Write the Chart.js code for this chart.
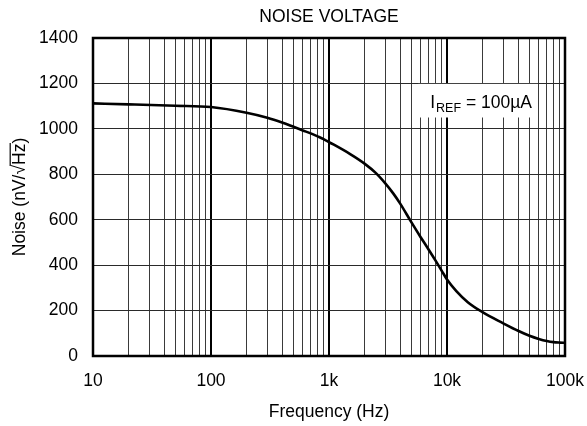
<!DOCTYPE html>
<html>
<head>
<meta charset="utf-8">
<script src="https://cdn.jsdelivr.net/npm/chart.js@4"></script>
<style>
  html, body { margin: 0; padding: 0; background: #fff; }
  #wrap { width: 587px; height: 426px; position: relative; }
</style>
</head>
<body>
<div id="wrap"><canvas id="c" width="587" height="426"></canvas></div>
<script>
// ---- data ----
const frequencies = [10, 20, 50, 100, 200, 300, 400, 500, 600, 700, 800, 900, 1000, 1500, 2000, 2500, 3000, 3500, 4000, 5000, 6000, 7000, 8000, 9000, 10000, 12000, 15000, 20000, 30000, 40000, 50000, 60000, 70000, 80000, 90000, 100000];
const noiseValues = [1112, 1108, 1102, 1096, 1071, 1049, 1028, 1009, 993, 980, 967, 955, 942, 890, 847, 805, 760, 716, 672, 588, 522, 468, 420, 376, 337, 286, 237, 193, 144, 111, 89, 75, 66, 61, 59, 58];
const xMajorTicks = [10, 100, 1000, 10000, 100000];
const xTickLabels = ['10', '100', '1k', '10k', '100k'];
const xMinorMantissas = [2, 3, 4, 5, 6, 7, 8, 9];
const yTicks = [0, 200, 400, 600, 800, 1000, 1200, 1400];
const chartTitle = 'NOISE VOLTAGE';
const xTitle = 'Frequency (Hz)';
const yTitleMain = 'Noise (nV/\u221A';
const yTitleRadicand = 'Hz';
const yTitleEnd = ')';
const annotationMain = 'I';
const annotationSub = 'REF';
const annotationRest = ' = 100\u00B5A';
const annotationBox = { xMin: 5700, xMax: 59000, yMin: 1050, yMax: 1198 };

const FONT = '"Liberation Sans", Arial, Helvetica, sans-serif';
const FS = 17.5;

const gridValues = [];
xMajorTicks.forEach((d, i) => {
  gridValues.push(d);
  if (i < xMajorTicks.length - 1) xMinorMantissas.forEach(m => gridValues.push(d * m));
});

const decorPlugin = {
  id: 'decor',
  afterDatasetsDraw(chart) {
    const ctx = chart.ctx;
    const xs = chart.scales.x, ys = chart.scales.y;
    const l = xs.getPixelForValue(annotationBox.xMin);
    const r = xs.getPixelForValue(annotationBox.xMax);
    const t = ys.getPixelForValue(annotationBox.yMax);
    const b = ys.getPixelForValue(annotationBox.yMin);
    ctx.save();
    ctx.fillStyle = '#fff';
    ctx.fillRect(l, t, r - l, b - t);
    ctx.fillStyle = '#000';
    ctx.textBaseline = 'alphabetic';
    ctx.textAlign = 'left';
    ctx.font = FS + 'px ' + FONT;
    const wI = ctx.measureText(annotationMain).width;
    ctx.font = '12.5px ' + FONT;
    const wS = ctx.measureText(annotationSub).width;
    ctx.font = FS + 'px ' + FONT;
    const wR = ctx.measureText(annotationRest).width;
    const total = wI + 1 + wS + wR;
    let x = (l + r) / 2 - total / 2 + 3;
    const base = t + 24.5;
    ctx.font = FS + 'px ' + FONT;
    ctx.fillText(annotationMain, x, base);
    x += wI + 1;
    ctx.font = '12.5px ' + FONT;
    ctx.fillText(annotationSub, x, base + 3.5);
    x += wS;
    ctx.font = FS + 'px ' + FONT;
    ctx.fillText(annotationRest, x, base);
    ctx.restore();
  },
  afterDraw(chart) {
    const ctx = chart.ctx;
    const a = chart.chartArea;
    ctx.save();
    ctx.strokeStyle = '#000';
    ctx.lineWidth = 2.5;
    ctx.strokeRect(a.left, a.top, a.right - a.left, a.bottom - a.top);
    ctx.fillStyle = '#000';
    ctx.font = FS + 'px ' + FONT;
    ctx.textAlign = 'center';
    ctx.textBaseline = 'middle';
    const cx = (a.left + a.right) / 2;
    ctx.fillText(chartTitle, cx, 17);
    ctx.fillText(xTitle, cx, 412);
    const cy = (a.top + a.bottom) / 2;
    ctx.translate(19, cy);
    ctx.rotate(-Math.PI / 2);
    const w1 = ctx.measureText(yTitleMain).width;
    const w2 = ctx.measureText(yTitleRadicand).width;
    const w3 = ctx.measureText(yTitleEnd).width;
    const tw = w1 + w2 + w3;
    ctx.textAlign = 'left';
    ctx.textBaseline = 'alphabetic';
    const sx = -tw / 2;
    const by = 6;
    ctx.fillText(yTitleMain, sx, by);
    ctx.fillText(yTitleRadicand, sx + w1, by);
    ctx.fillText(yTitleEnd, sx + w1 + w2, by);
    ctx.lineWidth = 1.2;
    ctx.beginPath();
    ctx.moveTo(sx + w1 - 1, by - 14.8);
    ctx.lineTo(sx + w1 + w2 + 0.5, by - 14.8);
    ctx.stroke();
    ctx.restore();
  }
};

new Chart(document.getElementById('c'), {
  type: 'line',
  data: {
    datasets: [{
      data: frequencies.map((f, i) => ({ x: f, y: noiseValues[i] })),
      borderColor: '#000',
      borderWidth: 2.6,
      pointRadius: 0,
      fill: false,
      cubicInterpolationMode: 'monotone'
    }]
  },
  options: {
    responsive: false,
    animation: false,
    devicePixelRatio: 1,
    layout: { padding: { top: 38, right: 22, left: 0, bottom: 0 } },
    plugins: { legend: { display: false }, title: { display: false }, tooltip: { enabled: false } },
    scales: {
      x: {
        type: 'logarithmic',
        min: 10,
        max: 100000,
        afterBuildTicks: s => { s.ticks = gridValues.map(v => ({ value: v })); },
        afterFit: s => { s.height = 70; s.paddingLeft = 0; s.paddingRight = 0; },
        border: { display: false },
        grid: {
          drawTicks: false,
          color: c => (xMajorTicks.includes(c.tick && c.tick.value) ? '#000' : '#3a3a3a'),
          lineWidth: c => (xMajorTicks.includes(c.tick && c.tick.value) ? 2 : 1)
        },
        ticks: {
          autoSkip: false,
          maxRotation: 0,
          padding: 15,
          color: '#000',
          font: { family: FONT, size: FS },
          callback: v => { const i = xMajorTicks.indexOf(v); return i >= 0 ? xTickLabels[i] : ''; }
        }
      },
      y: {
        min: 0,
        max: 1400,
        afterBuildTicks: s => { s.ticks = yTicks.map(v => ({ value: v })); },
        afterFit: s => { s.width = 93; s.paddingTop = 0; s.paddingBottom = 0; },
        border: { display: false },
        grid: { drawTicks: false, color: '#2a2a2a', lineWidth: 1 },
        ticks: {
          padding: 15,
          color: '#000',
          font: { family: FONT, size: FS },
          callback: v => String(v)
        }
      }
    }
  },
  plugins: [decorPlugin]
});
</script>
</body>
</html>
